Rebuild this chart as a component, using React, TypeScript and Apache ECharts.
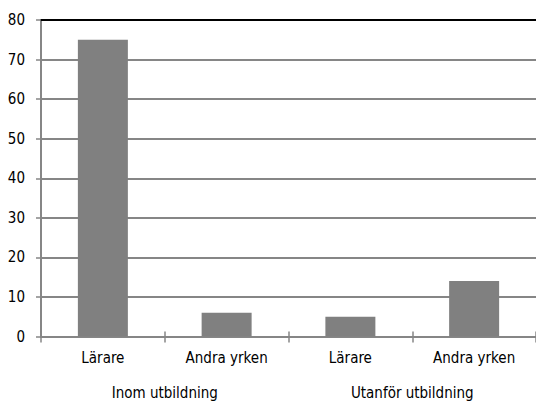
import React, { useEffect, useRef } from "react";
import * as echarts from "echarts";

const categories = ["Lärare", "Andra yrken", "Lärare", "Andra yrken"];
const groups = ["Inom utbildning", "Utanför utbildning"];
const values = [75, 6, 5, 14];

const FONT = "'DejaVu Sans Condensed', sans-serif";
const GREY = "#868686";

export default function App() {
  const ref = useRef<HTMLDivElement>(null);
  useEffect(() => {
    if (!ref.current) return;
    const chart = echarts.init(ref.current, null, { renderer: "svg" });
    chart.setOption({
      animation: false,
      grid: { left: 41, top: 20, width: 504, bottom: 64.5, containLabel: false },
      xAxis: [
        {
          type: "category",
          data: categories,
          position: "bottom",
          axisLine: { show: true, lineStyle: { color: GREY, width: 2 } },
          axisTick: { show: true, length: 6, lineStyle: { color: GREY, width: 1.5 } },
          axisLabel: { color: "#000", fontFamily: FONT, fontSize: 15, margin: 14 },
          splitLine: { show: false },
        },
        {
          type: "category",
          data: groups,
          position: "bottom",
          offset: 36,
          axisLine: { show: false },
          axisTick: { show: false },
          axisLabel: { color: "#000", fontFamily: FONT, fontSize: 15, margin: 13 },
        },
        {
          type: "category",
          data: categories,
          position: "bottom",
          axisLine: { show: false },
          axisTick: { show: true, inside: true, length: 5, lineStyle: { color: GREY, width: 1.5 } },
          axisLabel: { show: false },
        },
        {
          type: "category",
          data: categories,
          position: "top",
          axisLine: { show: true, lineStyle: { color: "#000", width: 2 } },
          axisTick: { show: false },
          axisLabel: { show: false },
        },
      ],
      yAxis: {
        type: "value",
        min: 0,
        max: 80,
        interval: 10,
        axisLine: { show: true, lineStyle: { color: GREY, width: 2 } },
        axisTick: { show: true, length: 5, lineStyle: { color: GREY, width: 1.5 } },
        axisLabel: { color: "#000", fontFamily: FONT, fontSize: 15, margin: 16 },
        splitLine: { show: true, lineStyle: { color: GREY, width: 2 } },
      },
      series: [
        {
          type: "bar",
          data: values,
          xAxisIndex: 0,
          barWidth: 50,
          itemStyle: { color: "#808080" },
        },
      ],
    });
    return () => chart.dispose();
  }, []);
  return (
    <div
      ref={ref}
      style={{ width: 536, height: 401, position: "absolute", left: 0, top: 0, overflow: "hidden" }}
    />
  );
}
